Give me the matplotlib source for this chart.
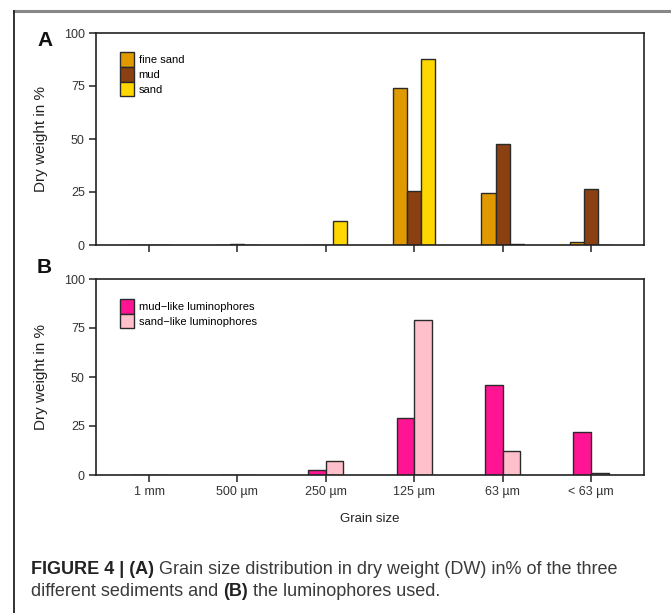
import matplotlib
matplotlib.use("Agg")
import matplotlib.pyplot as plt
import numpy as np
from matplotlib.patches import Patch
from matplotlib.lines import Line2D

# 粒徑類別
grain_sizes = ["1 mm", "500 µm", "250 µm", "125 µm", "63 µm", "< 63 µm"]

# (A) 三種沉積物的乾重百分比
fine_sand = [0.0, 0.2, 0.0, 74.1, 24.3, 1.4]
mud = [0.0, 0.5, 0.0, 25.4, 47.6, 26.6]
sand = [0.0, 0.0, 11.4, 87.8, 0.3, 0.0]

# (B) 螢光示蹤粒子的乾重百分比
mud_like = [0.0, 0.0, 2.7, 28.9, 45.8, 21.9]
sand_like = [0.0, 0.0, 7.2, 79.3, 12.5, 1.0]

plain = ["Liberation Sans", "DejaVu Sans"]
plt.rcParams["font.family"] = plain

W, H = 671, 613
fig = plt.figure(figsize=(W / 100, H / 100), dpi=100)


def box(left, top, right, bottom):
    return [left / W, 1 - bottom / H, (right - left) / W, (bottom - top) / H]


def style_axis(ax, labels):
    ax.set_xlim(-0.6, 5.6)
    ax.set_ylim(0, 100)
    ax.set_yticks([0, 25, 50, 75, 100])
    ax.set_xticks(np.arange(len(grain_sizes)))
    if labels:
        ax.set_xticklabels(grain_sizes, fontsize=9, color="#333333")
    else:
        ax.set_xticklabels([])
    for t in ax.get_yticklabels():
        t.set_fontsize(9)
        t.set_color("#333333")
    for s in ax.spines.values():
        s.set_color("#222222")
        s.set_linewidth(1.2)
    ax.tick_params(length=5, width=1.2, color="#333333", pad=3)
    ax.set_ylabel("Dry weight in %", fontsize=11, color="#222222")
    ax.yaxis.set_label_coords(-0.088, 0.5)


def legend(ax, cols, names, anchor_y):
    handles = [Patch(facecolor=c, edgecolor="#2a2a2a", linewidth=1.0) for c in cols]
    ax.legend(handles, names, loc="upper left", frameon=False,
              bbox_to_anchor=(0.035, anchor_y), handlelength=1.27, handleheight=1.65,
              handletextpad=0.45, labelspacing=0.0, borderaxespad=0,
              prop={"size": 8})


x = np.arange(len(grain_sizes))

# ---- 圖 A ----
axA = fig.add_axes(box(96, 33, 644, 245))
w = 0.16
cols_a = ["#E09A00", "#8A4010", "#FFD700"]
for i, (vals, c) in enumerate(zip([fine_sand, mud, sand], cols_a)):
    axA.bar(x + (i - 1) * w, vals, w, color=c, edgecolor="#2a2a2a", linewidth=1.0)
style_axis(axA, False)
legend(axA, cols_a, ["fine sand", "mud", "sand"], 0.93)
fig.text(37 / W, 1 - 40 / H, "A", fontsize=15, fontweight="bold", va="center", color="#111111")

# ---- 圖 B ----
axB = fig.add_axes(box(96, 279, 644, 475))
w = 0.2
cols_b = ["#FF1493", "#FFC0CB"]
for i, (vals, c) in enumerate(zip([mud_like, sand_like], cols_b)):
    axB.bar(x + (i - 0.5) * w, vals, w, color=c, edgecolor="#2a2a2a", linewidth=1.0)
style_axis(axB, True)
legend(axB, cols_b, ["mud\u2212like luminophores", "sand\u2212like luminophores"], 0.92)
axB.set_xlabel("Grain size", fontsize=9.5, color="#222222")
axB.xaxis.set_label_coords(0.5, -0.195)
fig.text(37 / W, 1 - 268 / H, "B", fontsize=15, fontweight="bold", va="center", color="#111111")

# ---- 外框 ----
fig.add_artist(Line2D([14 / W, 1], [1 - 11 / H, 1 - 11 / H], color="#888888", lw=2.2))
fig.add_artist(Line2D([14 / W, 14 / W], [0, 1 - 11 / H], color="#222222", lw=1.3))

# ---- 圖說（粗體與一般字混排） ----
fig.canvas.draw()
renderer = fig.canvas.get_renderer()
cap_lines = [
    [("FIGURE 4 | (A)", "bold"), (" Grain size distribution in dry weight (DW) in% of the three", "normal")],
    [("different sediments and ", "normal"), ("(B)", "bold"), (" the luminophores used.", "normal")],
]
cap_y = [570, 592]
for parts, yy in zip(cap_lines, cap_y):
    xx = 31 / W
    for txt, wt in parts:
        t = fig.text(xx, 1 - yy / H, txt, fontsize=13, fontweight=wt, va="center",
                     color="#3a3a3a" if wt == "normal" else "#222222")
        bb = t.get_window_extent(renderer)
        xx += bb.width / W

fig.savefig("out.png", dpi=100)
